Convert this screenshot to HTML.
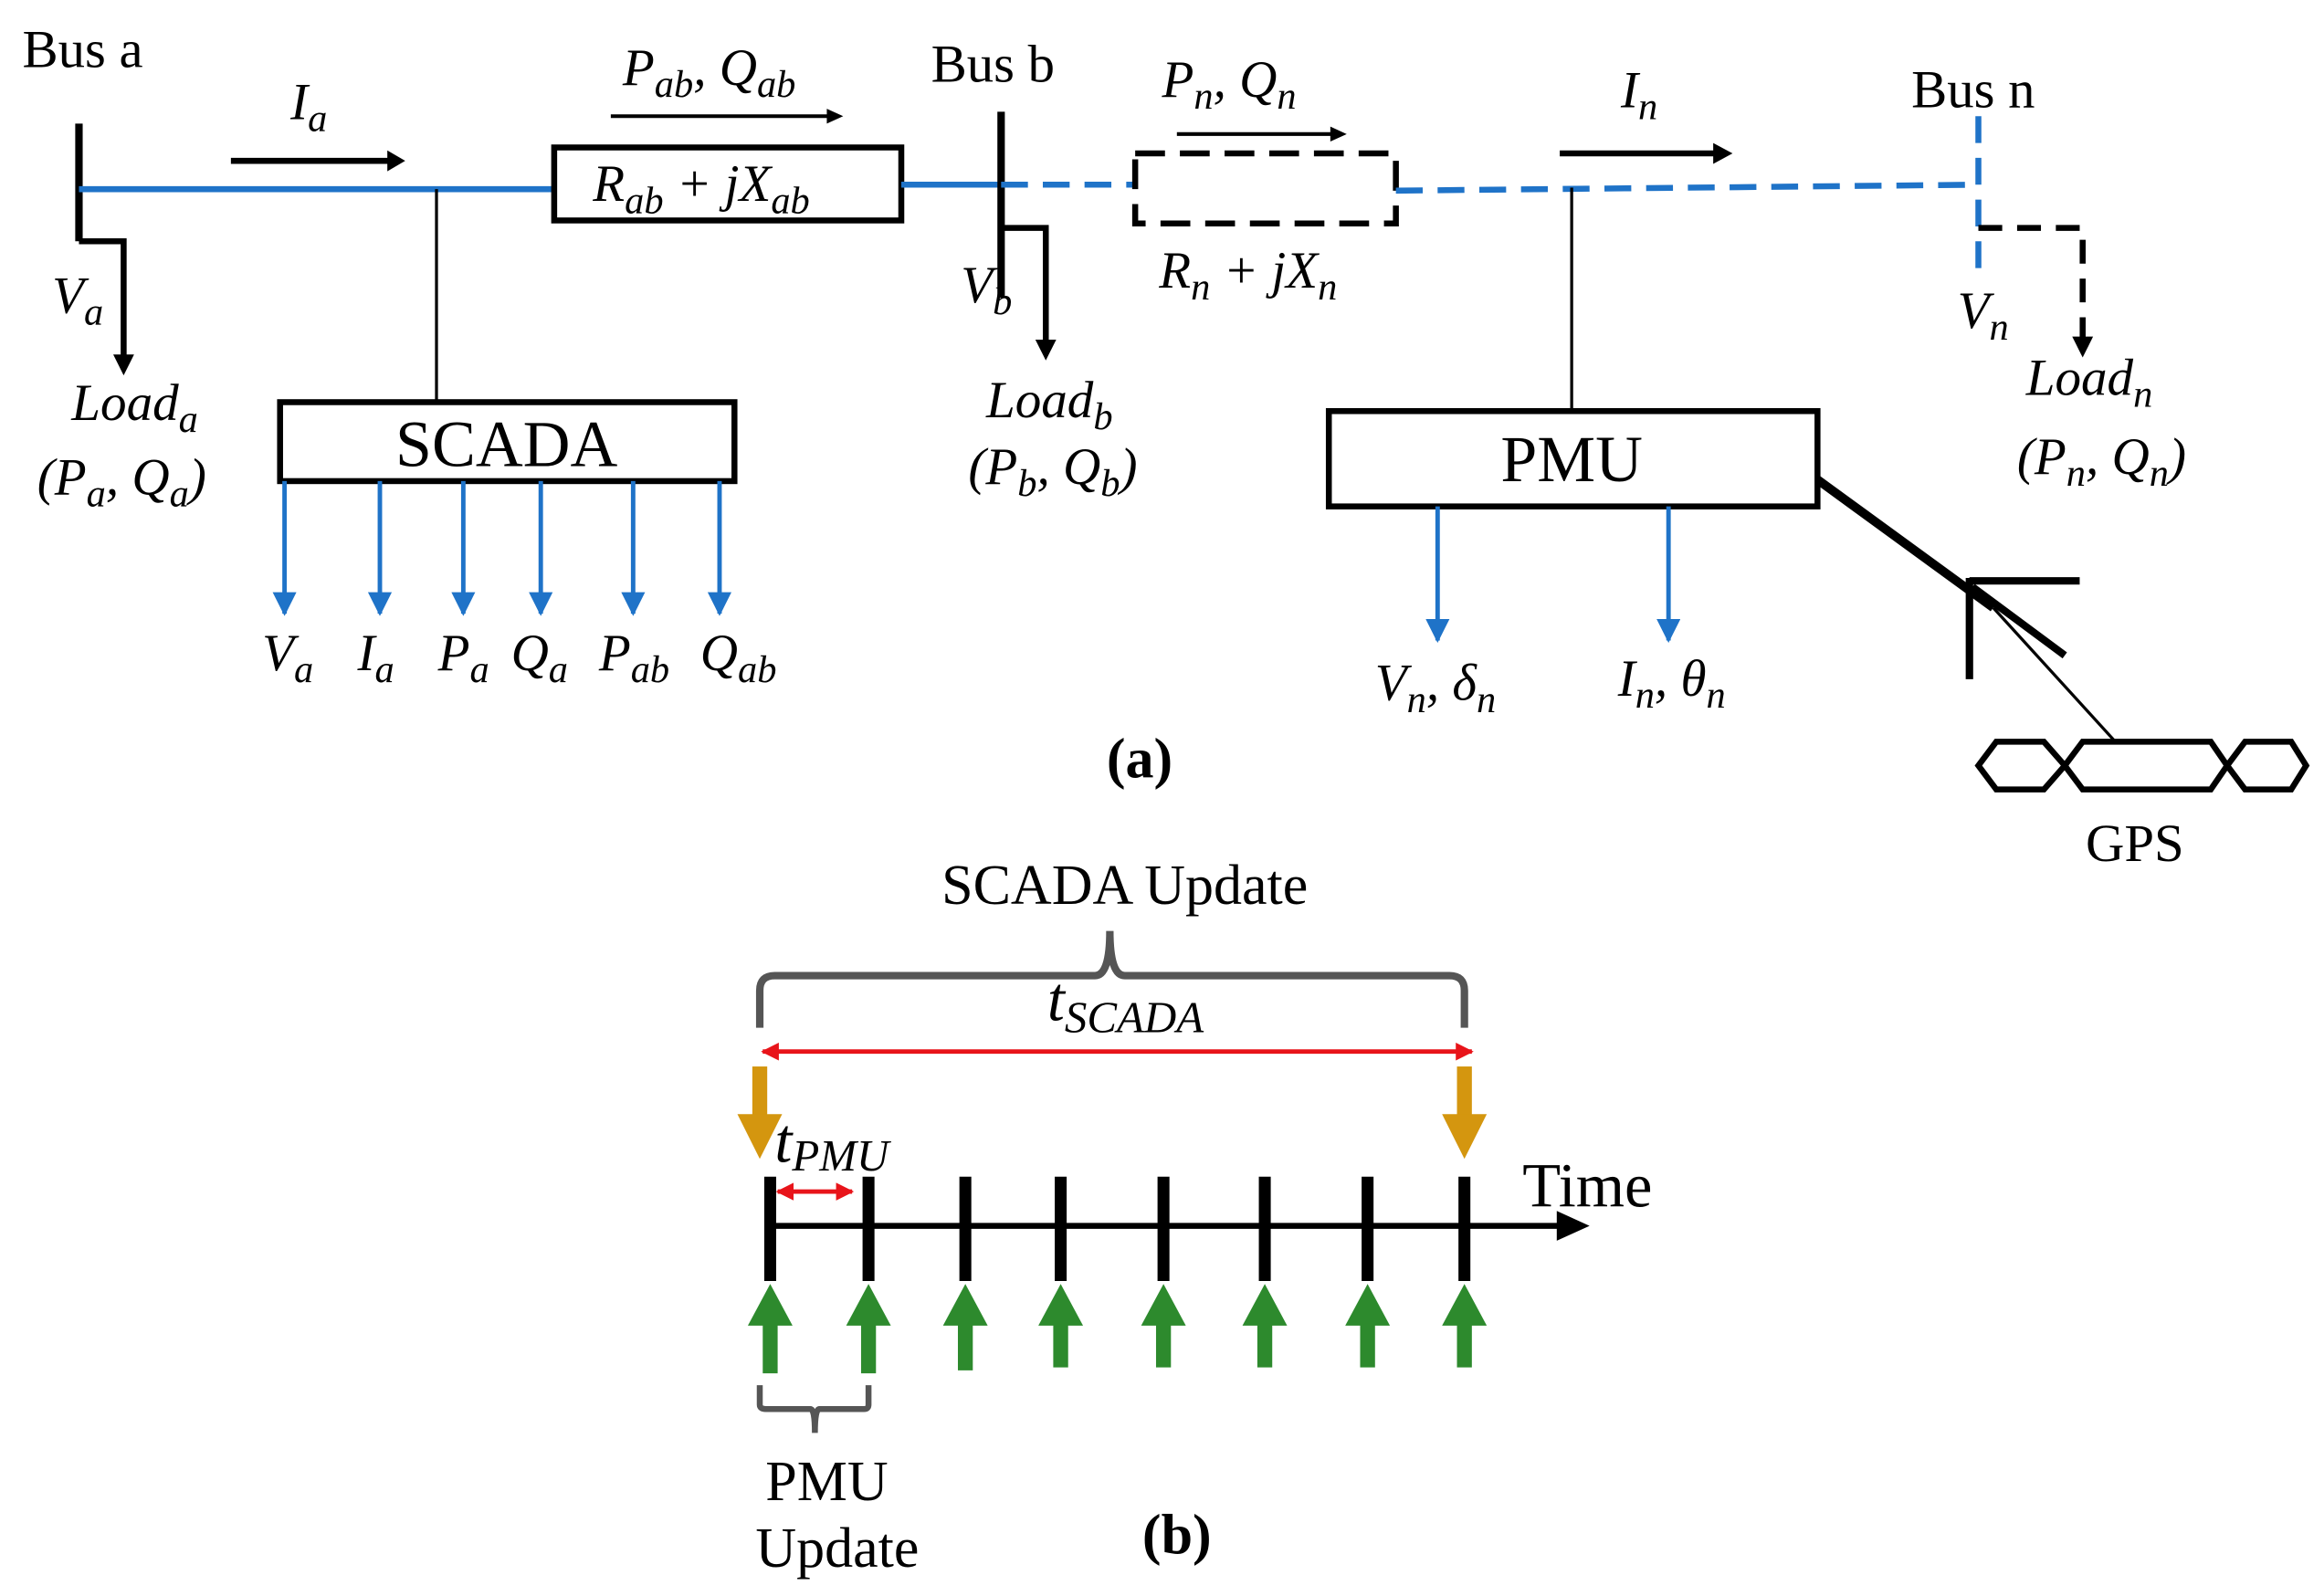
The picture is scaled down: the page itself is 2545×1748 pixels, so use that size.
<!DOCTYPE html>
<html><head><meta charset="utf-8"><style>
html,body{margin:0;padding:0;background:#fff}
svg{display:block}
text{font-family:"Liberation Serif",serif;fill:#000}
.m{font-style:italic;font-size:35px}
.s{font-size:26px;font-style:italic}
</style></head><body>
<svg width="2545" height="1748" viewBox="0 0 1560 1071.5" preserveAspectRatio="none" xmlns="http://www.w3.org/2000/svg">
<defs>
<marker id="ab" viewBox="0 0 10 10" markerWidth="16" markerHeight="16" refX="9" refY="5" orient="auto" markerUnits="userSpaceOnUse"><path d="M0,0 L10,5 L0,10Z" fill="#1f73c8"/></marker>
<marker id="ar" viewBox="0 0 10 10" markerWidth="12" markerHeight="12" refX="9" refY="5" orient="auto-start-reverse" markerUnits="userSpaceOnUse"><path d="M0,0 L10,5 L0,10Z" fill="#e8141a"/></marker>
</defs>
<g fill="none">
<line x1="53" y1="83" x2="53" y2="162" stroke="#000" stroke-width="5"/>
<line x1="53" y1="127" x2="372" y2="127" stroke="#1f73c8" stroke-width="4"/>
<polyline points="53,162 83,162 83,240" stroke="#000" stroke-width="4"/>
<path d="M76,238 L90,238 L83,252Z" fill="#000"/>
<line x1="155" y1="108" x2="262" y2="108" stroke="#000" stroke-width="4"/>
<path d="M260,101 L272,108 L260,115Z" fill="#000"/>
<line x1="410" y1="78" x2="557" y2="78" stroke="#000" stroke-width="2.5"/>
<path d="M555,73 L566,78 L555,83Z" fill="#000"/>
<rect x="372" y="99" width="233" height="49" stroke="#000" stroke-width="4"/>
<line x1="605" y1="124" x2="672" y2="124" stroke="#1f73c8" stroke-width="4"/>
<line x1="293" y1="127" x2="293" y2="270" stroke="#000" stroke-width="2"/>
<rect x="188" y="270" width="305" height="53" stroke="#000" stroke-width="4"/>
<g stroke="#1f73c8" stroke-width="3">
<line x1="191" y1="323" x2="191" y2="412" marker-end="url(#ab)"/>
<line x1="255" y1="323" x2="255" y2="412" marker-end="url(#ab)"/>
<line x1="311" y1="323" x2="311" y2="412" marker-end="url(#ab)"/>
<line x1="363" y1="323" x2="363" y2="412" marker-end="url(#ab)"/>
<line x1="425" y1="323" x2="425" y2="412" marker-end="url(#ab)"/>
<line x1="483" y1="323" x2="483" y2="412" marker-end="url(#ab)"/>
</g>
<line x1="672" y1="75" x2="672" y2="200" stroke="#000" stroke-width="5"/>
<polyline points="672,153 702,153 702,230" stroke="#000" stroke-width="4"/>
<path d="M695,228 L709,228 L702,242Z" fill="#000"/>
<line x1="672" y1="124" x2="762" y2="124" stroke="#1f73c8" stroke-width="4" stroke-dasharray="18,10"/>
<path d="M762,103 L937,103 L937,150 L762,150Z" stroke="#000" stroke-width="4" stroke-dasharray="20,10"/>
<line x1="790" y1="90" x2="895" y2="90" stroke="#000" stroke-width="2.5"/>
<path d="M893,85 L904,90 L893,95Z" fill="#000"/>
<path d="M937,128 L1328,124" stroke="#1f73c8" stroke-width="4" stroke-dasharray="18,10"/>
<line x1="1047" y1="103" x2="1152" y2="103" stroke="#000" stroke-width="4"/>
<path d="M1150,96 L1163,103 L1150,110Z" fill="#000"/>
<line x1="1055" y1="126" x2="1055" y2="276" stroke="#000" stroke-width="2"/>
<rect x="892" y="276" width="328" height="64" stroke="#000" stroke-width="4"/>
<g stroke="#1f73c8" stroke-width="3">
<line x1="965" y1="340" x2="965" y2="430" marker-end="url(#ab)"/>
<line x1="1120" y1="340" x2="1120" y2="430" marker-end="url(#ab)"/>
</g>
<line x1="1328" y1="78" x2="1328" y2="180" stroke="#1f73c8" stroke-width="4" stroke-dasharray="18,10"/>
<polyline points="1328,153 1398,153 1398,228" stroke="#000" stroke-width="4" stroke-dasharray="16,10"/>
<path d="M1391,226 L1405,226 L1398,240Z" fill="#000"/>
<line x1="1220" y1="322" x2="1338" y2="408" stroke="#000" stroke-width="6"/>
<line x1="1322" y1="388" x2="1322" y2="456" stroke="#000" stroke-width="5"/>
<line x1="1322" y1="390" x2="1396" y2="390" stroke="#000" stroke-width="5"/>
<line x1="1324" y1="394" x2="1386" y2="440" stroke="#000" stroke-width="5"/>
<line x1="1338" y1="408" x2="1420" y2="498" stroke="#000" stroke-width="2"/>
<path d="M1340,498 L1372,498 L1386,514 L1372,530 L1340,530 L1328,514Z" stroke="#000" stroke-width="4"/>
<path d="M1398,498 L1484,498 L1495,514 L1484,530 L1398,530 L1386,514Z" stroke="#000" stroke-width="4"/>
<path d="M1507,498 L1538,498 L1548,514 L1538,530 L1507,530 L1495,514Z" stroke="#000" stroke-width="4"/>
<path d="M510,690 L510,665 Q510,655 520,655 L735,655 Q745,655 745,625 Q745,655 755,655 L973,655 Q983,655 983,665 L983,690" stroke="#555" stroke-width="5"/>
<line x1="512" y1="706" x2="988" y2="706" stroke="#e8141a" stroke-width="3" marker-start="url(#ar)" marker-end="url(#ar)"/>
<g fill="#d4960f">
<rect x="505" y="716" width="10" height="34"/><path d="M495,748 L525,748 L510,778Z"/>
<rect x="978" y="716" width="10" height="34"/><path d="M968,748 L998,748 L983,778Z"/>
</g>
<line x1="522" y1="800" x2="572" y2="800" stroke="#e8141a" stroke-width="3" marker-start="url(#ar)" marker-end="url(#ar)"/>
<line x1="517" y1="823" x2="1050" y2="823" stroke="#000" stroke-width="4"/>
<path d="M1045,813 L1067,823 L1045,833Z" fill="#000"/>
<g stroke="#000" stroke-width="8">
<line x1="517" y1="790" x2="517" y2="860"/><line x1="583" y1="790" x2="583" y2="860"/>
<line x1="648" y1="790" x2="648" y2="860"/><line x1="712" y1="790" x2="712" y2="860"/>
<line x1="781" y1="790" x2="781" y2="860"/><line x1="849" y1="790" x2="849" y2="860"/>
<line x1="918" y1="790" x2="918" y2="860"/><line x1="983" y1="790" x2="983" y2="860"/>
</g>
<g fill="#2d8a2d">
<path d="M502,890 L517,862 L532,890 L522,890 L522,922 L512,922 L512,890Z"/>
<path d="M568,890 L583,862 L598,890 L588,890 L588,922 L578,922 L578,890Z"/>
<path d="M633,890 L648,862 L663,890 L653,890 L653,920 L643,920 L643,890Z"/>
<path d="M697,890 L712,862 L727,890 L717,890 L717,918 L707,918 L707,890Z"/>
<path d="M766,890 L781,862 L796,890 L786,890 L786,918 L776,918 L776,890Z"/>
<path d="M834,890 L849,862 L864,890 L854,890 L854,918 L844,918 L844,890Z"/>
<path d="M903,890 L918,862 L933,890 L923,890 L923,918 L913,918 L913,890Z"/>
<path d="M968,890 L983,862 L998,890 L988,890 L988,918 L978,918 L978,890Z"/>
</g>
<path d="M510,930 L510,943 Q510,946 514,946 L544,946 Q547,946 547,962 Q547,946 550,946 L580,946 Q583,946 583,943 L583,930" stroke="#555" stroke-width="4"/>
</g>
<text x="15" y="45" style="font-size:36px">Bus a</text>
<text class="m" x="195" y="80">I<tspan class="s" dy="8">a</tspan></text>
<text class="m" x="418" y="57">P<tspan class="s" dy="8">ab</tspan><tspan dy="-8">, Q</tspan><tspan class="s" dy="8">ab</tspan></text>
<text class="m" x="398" y="135">R<tspan class="s" dy="8">ab</tspan><tspan dy="-8"> + jX</tspan><tspan class="s" dy="8">ab</tspan></text>
<text class="m" x="35" y="210">V<tspan class="s" dy="8">a</tspan></text>
<text class="m" x="48" y="282">Load<tspan class="s" dy="8">a</tspan></text>
<text class="m" x="25" y="332">(P<tspan class="s" dy="8">a</tspan><tspan dy="-8">, Q</tspan><tspan class="s" dy="8">a</tspan><tspan dy="-8">)</tspan></text>
<text x="340" y="313" text-anchor="middle" style="font-size:44px">SCADA</text>
<text class="m" x="176" y="450">V<tspan class="s" dy="8">a</tspan></text>
<text class="m" x="240" y="450">I<tspan class="s" dy="8">a</tspan></text>
<text class="m" x="294" y="450">P<tspan class="s" dy="8">a</tspan></text>
<text class="m" x="343" y="450">Q<tspan class="s" dy="8">a</tspan></text>
<text class="m" x="402" y="450">P<tspan class="s" dy="8">ab</tspan></text>
<text class="m" x="470" y="450">Q<tspan class="s" dy="8">ab</tspan></text>
<text x="625" y="55" style="font-size:36px">Bus b</text>
<text class="m" x="645" y="203">V<tspan class="s" dy="8">b</tspan></text>
<text class="m" x="662" y="280">Load<tspan class="s" dy="8">b</tspan></text>
<text class="m" x="650" y="325">(P<tspan class="s" dy="8">b</tspan><tspan dy="-8">, Q</tspan><tspan class="s" dy="8">b</tspan><tspan dy="-8">)</tspan></text>
<text class="m" x="780" y="65">P<tspan class="s" dy="8">n</tspan><tspan dy="-8">, Q</tspan><tspan class="s" dy="8">n</tspan></text>
<text class="m" x="778" y="193">R<tspan class="s" dy="8">n</tspan><tspan dy="-8"> + jX</tspan><tspan class="s" dy="8">n</tspan></text>
<text class="m" x="1088" y="72">I<tspan class="s" dy="8">n</tspan></text>
<text x="1055" y="323" text-anchor="middle" style="font-size:44px">PMU</text>
<text class="m" x="923" y="470">V<tspan class="s" dy="8">n</tspan><tspan dy="-8">, δ</tspan><tspan class="s" dy="8">n</tspan></text>
<text class="m" x="1086" y="467">I<tspan class="s" dy="8">n</tspan><tspan dy="-8">, θ</tspan><tspan class="s" dy="8">n</tspan></text>
<text x="1283" y="72" style="font-size:36px">Bus n</text>
<text class="m" x="1314" y="220">V<tspan class="s" dy="8">n</tspan></text>
<text class="m" x="1360" y="265">Load<tspan class="s" dy="8">n</tspan></text>
<text class="m" x="1354" y="318">(P<tspan class="s" dy="8">n</tspan><tspan dy="-8">, Q</tspan><tspan class="s" dy="8">n</tspan><tspan dy="-8">)</tspan></text>
<text x="1400" y="578" style="font-size:36px">GPS</text>
<text x="765" y="522" text-anchor="middle" style="font-size:38px;font-weight:bold">(a)</text>
<text x="755" y="607" text-anchor="middle" style="font-size:38px">SCADA Update</text>
<text class="m" x="703" y="685" style="font-size:42px">t<tspan class="s" dy="8" style="font-size:30px">SCADA</tspan></text>
<text class="m" x="520" y="780" style="font-size:42px">t<tspan class="s" dy="6" style="font-size:30px">PMU</tspan></text>
<text x="1022" y="810" style="font-size:42px">Time</text>
<text x="555" y="1007" text-anchor="middle" style="font-size:38px">PMU</text>
<text x="562" y="1052" text-anchor="middle" style="font-size:38px">Update</text>
<text x="790" y="1043" text-anchor="middle" style="font-size:38px;font-weight:bold">(b)</text>
</svg>
</body></html>
